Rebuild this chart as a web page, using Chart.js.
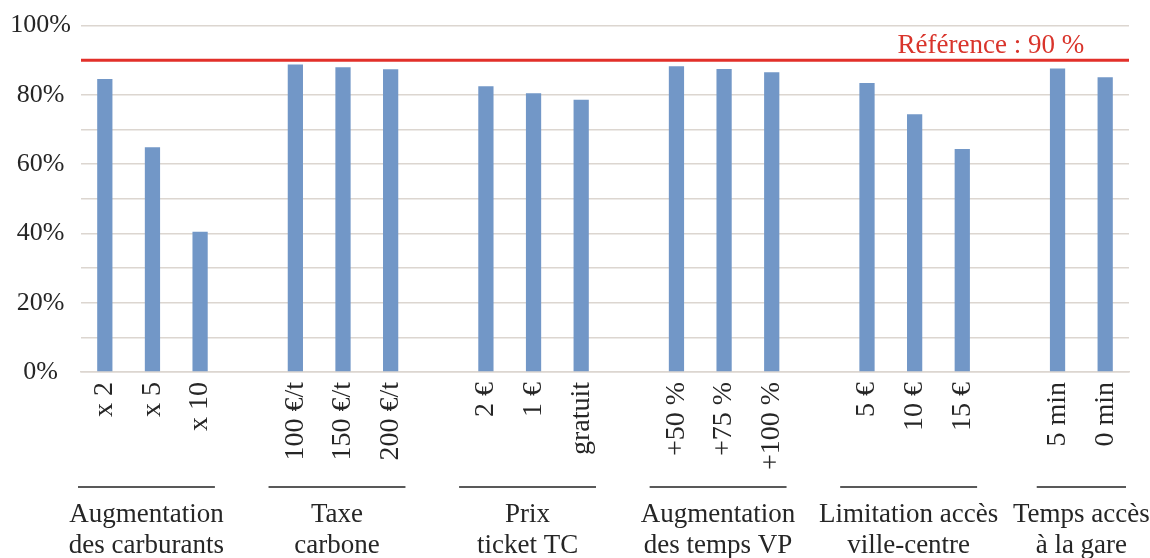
<!DOCTYPE html>
<html lang="fr">
<head>
<meta charset="utf-8">
<script src="https://cdn.jsdelivr.net/npm/chart.js@4.4.1/dist/chart.umd.min.js"></script>
<style>
    body { margin: 0; background: #fff; }
    #wrap { width: 1150px; height: 558px; }
</style>
</head>
<body>
<div id="wrap"><canvas id="chart"></canvas></div>
<script>
// Categories (empty strings are the gaps between groups)
const categories = [
    'x 2', 'x 5', 'x 10', '',
    '100 €/t', '150 €/t', '200 €/t', '',
    '2 €', '1 €', 'gratuit', '',
    '+50 %', '+75 %', '+100 %', '',
    '5 €', '10 €', '15 €', '',
    '5 min', '0 min'
];

// Share of trips (%)
const shareValues = [
    84.6, 64.9, 40.5, null,
    88.8, 88.0, 87.4, null,
    82.5, 80.5, 78.6, null,
    88.3, 87.5, 86.5, null,
    83.4, 74.4, 64.4, null,
    87.6, 85.1
];

// Group titles and the first/last category index of each group
const groupNames = [
    ['Augmentation', 'des carburants'],
    ['Taxe', 'carbone'],
    ['Prix', 'ticket TC'],
    ['Augmentation', 'des temps VP'],
    ['Limitation accès', 'ville-centre'],
    ['Temps accès', 'à la gare']
];
const groupFirst = [0, 4, 8, 12, 16, 20];
const groupLast = [2, 6, 10, 14, 18, 21];

const referenceValue = 90;
const referenceLabel = 'Référence : 90 %';

const FONT = "'Liberation Serif', 'DejaVu Serif', serif";
const TEXT = '#262626';
const GRID = '#dcd6d0';

// draws the reference line and the group captions
const extrasPlugin = {
    id: 'extras',
    afterDatasetsDraw(chart) {
        const ctx = chart.ctx;
        const area = chart.chartArea;
        const x = chart.scales.x;
        const y = chart.scales.y;

        // reference line
        const ry = y.getPixelForValue(referenceValue);
        ctx.save();
        ctx.strokeStyle = '#e2302a';
        ctx.lineWidth = 3;
        ctx.beginPath();
        ctx.moveTo(area.left, ry);
        ctx.lineTo(area.right, ry);
        ctx.stroke();
        ctx.fillStyle = '#d9342b';
        ctx.font = '27px ' + FONT;
        ctx.textAlign = 'center';
        ctx.textBaseline = 'alphabetic';
        ctx.fillText(referenceLabel, x.getPixelForValue(18.6), ry - 7);

        // group captions
        const step = x.getPixelForValue(1) - x.getPixelForValue(0);
        const lineY = 487;
        ctx.strokeStyle = '#222';
        ctx.lineWidth = 1.5;
        ctx.fillStyle = TEXT;
        ctx.font = '27px ' + FONT;
        groupNames.forEach((lines, i) => {
            const a = x.getPixelForValue(groupFirst[i]);
            const b = x.getPixelForValue(groupLast[i]);
            const n = groupLast[i] - groupFirst[i] + 1;
            const c = (a + b) / 2 - (n > 2 ? 6 : 0);
            const half = n * step / 2 - 3;
            ctx.beginPath();
            ctx.moveTo(c - half, lineY);
            ctx.lineTo(c + half, lineY);
            ctx.stroke();
            ctx.fillText(lines[0], c, 522);
            ctx.fillText(lines[1], c, 553);
        });
        ctx.restore();
    }
};

new Chart(document.getElementById('chart'), {
    type: 'bar',
    data: {
        labels: categories,
        datasets: [{
            data: shareValues,
            backgroundColor: '#7297c7',
            barPercentage: 0.32,
            categoryPercentage: 1
        }]
    },
    options: {
        responsive: true,
        maintainAspectRatio: false,
        animation: false,
        layout: { padding: { top: 12, right: 21, left: 0, bottom: 0 } },
        plugins: {
            legend: { display: false },
            tooltip: { enabled: false }
        },
        scales: {
            x: {
                grid: { display: false },
                border: { color: GRID, width: 1.5 },
                ticks: {
                    color: TEXT,
                    font: { family: FONT, size: 28 },
                    minRotation: 90,
                    maxRotation: 90,
                    autoSkip: false,
                    padding: 2
                },
                afterFit(scale) { scale.height = 186; }
            },
            y: {
                min: 0,
                max: 100,
                ticks: {
                    stepSize: 10,
                    color: TEXT,
                    font: { family: FONT, size: 26 },
                    crossAlign: 'center',
                    padding: 10,
                    callback: v => (v % 20 === 0 ? v + '%' : '')
                },
                grid: { color: GRID, lineWidth: 1.5, drawTicks: false },
                border: { display: false },
                afterFit(scale) { scale.width = 81; }
            }
        }
    },
    plugins: [extrasPlugin]
});
</script>
</body>
</html>
